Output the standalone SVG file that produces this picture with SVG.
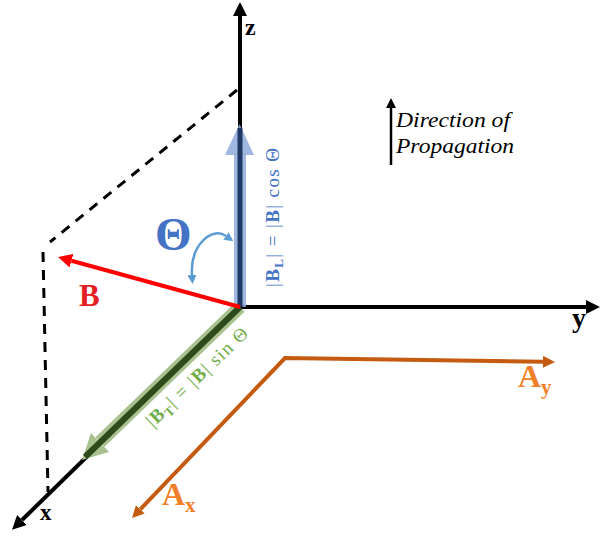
<svg xmlns="http://www.w3.org/2000/svg" width="600" height="536" viewBox="0 0 600 536">
<style>
text{font-family:"Liberation Serif","DejaVu Serif",serif}
.axis{stroke:#000;stroke-width:4;fill:none}
.axlbl{font-weight:bold;fill:#000}
.dash{stroke:#000;stroke-width:3;stroke-dasharray:10 8;fill:none}
.orange{stroke:#c55a11;stroke-width:4;fill:none}
.olbl{font-weight:bold;font-size:32px;fill:#f07f2a}
.osub{font-size:21px}
</style>
<defs>
<marker id="ahBlack" markerUnits="userSpaceOnUse" markerWidth="14" markerHeight="14" viewBox="0 0 10 10" refX="0" refY="5" orient="auto-start-reverse"><path d="M0,0 L10,5 L0,10 z" fill="#000"/></marker>
<marker id="ahSmallBlack" markerUnits="userSpaceOnUse" markerWidth="10" markerHeight="10" viewBox="0 0 10 10" refX="0" refY="5" orient="auto-start-reverse"><path d="M0,0 L10,5 L0,10 z" fill="#000"/></marker>
<marker id="ahRed" markerUnits="userSpaceOnUse" markerWidth="14" markerHeight="14" viewBox="0 0 10 10" refX="0" refY="5" orient="auto-start-reverse"><path d="M0,0 L10,5 L0,10 z" fill="#ff0000"/></marker>
<marker id="ahOrange" markerUnits="userSpaceOnUse" markerWidth="12" markerHeight="12" viewBox="0 0 10 10" refX="0" refY="5" orient="auto-start-reverse"><path d="M0,0 L10,5 L0,10 z" fill="#c55a11"/></marker>
<marker id="ahLB" markerUnits="userSpaceOnUse" markerWidth="9" markerHeight="9" viewBox="0 0 10 10" refX="0" refY="5" orient="auto-start-reverse"><path d="M0,0 L10,5 L0,10 z" fill="#5b9bd5"/></marker>
</defs>

<g id="connectors">
  <path class="dash" d="M237 90 L50 242"/>
  <path class="dash" d="M43 252 L48 492"/>
  <g id="axes">
    <line class="axis" x1="240" y1="307" x2="240" y2="16" marker-end="url(#ahBlack)"/>
    <line class="axis" x1="240" y1="307" x2="586" y2="307" marker-end="url(#ahBlack)"/>
    <line class="axis" x1="240" y1="307" x2="22" y2="520" marker-end="url(#ahBlack)"/>
  </g>
  <g id="vec-BL">
    <line x1="240" y1="307" x2="240" y2="154" stroke="#8faadc" stroke-opacity="0.85" stroke-width="12"/>
    <polygon points="225,155 254,155 239.5,124" fill="#8faadc" fill-opacity="0.85"/>
    <line x1="240" y1="307" x2="240" y2="128" stroke="#203864" stroke-width="5"/>
  </g>
  <g id="vec-BT">
    <line x1="240" y1="307" x2="100" y2="442" stroke="#a9c18f" stroke-width="13"/>
    <polygon points="109,452 91,433 82,460" fill="#a9c18f"/>
    <line x1="240" y1="307" x2="85" y2="457" stroke="#2c4a1a" stroke-width="6"/>
  </g>
  <g id="vec-B">
    <line x1="240" y1="307" x2="71.5" y2="260.7" stroke="#ff0000" stroke-width="4" marker-end="url(#ahRed)"/>
  </g>
  <g id="theta-arc">
    <path d="M192 275 C190 245 212 226 226 236" stroke="#5b9bd5" stroke-width="2.5" fill="none" marker-start="url(#ahLB)" marker-end="url(#ahLB)"/>
  </g>
  <g id="vec-A">
    <polyline class="orange" points="140.3,509.3 285,358 543,361.8" marker-start="url(#ahOrange)" marker-end="url(#ahOrange)"/>
  </g>
  <g id="prop-arrow">
    <line x1="391" y1="165" x2="391" y2="108" stroke="#000" stroke-width="2.5" marker-end="url(#ahSmallBlack)"/>
  </g>
</g>

<g id="label-z"><text class="axlbl" x="245" y="35" font-size="24">z</text></g>
<g id="label-y"><text class="axlbl" x="572" y="327" font-size="28">y</text></g>
<g id="label-x"><text class="axlbl" x="40" y="520" font-size="23">x</text></g>
<g id="label-B"><text x="79" y="306" font-size="31" font-weight="bold" fill="#e31e24">B</text></g>
<g id="label-theta"><text x="155" y="250" font-size="47" font-weight="bold" fill="#4472c4">Θ</text></g>
<g id="label-BL">
  <text transform="translate(279,287) rotate(-90)" font-size="19" fill="#4472c4" textLength="139" lengthAdjust="spacing">|<tspan font-weight="bold">B</tspan><tspan font-weight="bold" font-size="13" dy="4">L</tspan><tspan dy="-4">| = |</tspan><tspan font-weight="bold">B</tspan>| cos Θ</text>
</g>
<g id="label-BT">
  <text transform="translate(153,428) rotate(-44)" font-size="19" fill="#70ad47" textLength="134" lengthAdjust="spacing">|<tspan font-weight="bold">B</tspan><tspan font-weight="bold" font-size="13" dy="4">T</tspan><tspan dy="-4">| = |</tspan><tspan font-weight="bold">B</tspan>| sin Θ</text>
</g>
<g id="label-Ay"><text class="olbl" x="518" y="387">A<tspan class="osub" dy="7">y</tspan></text></g>
<g id="label-Ax"><text class="olbl" x="162" y="505">A<tspan class="osub" dy="7">x</tspan></text></g>
<g id="label-direction">
  <text x="396" y="127" font-size="20" font-style="italic" fill="#000" textLength="114" lengthAdjust="spacingAndGlyphs">Direction of</text>
  <text x="396" y="153" font-size="20" font-style="italic" fill="#000" textLength="118" lengthAdjust="spacingAndGlyphs">Propagation</text>
</g>
</svg>
